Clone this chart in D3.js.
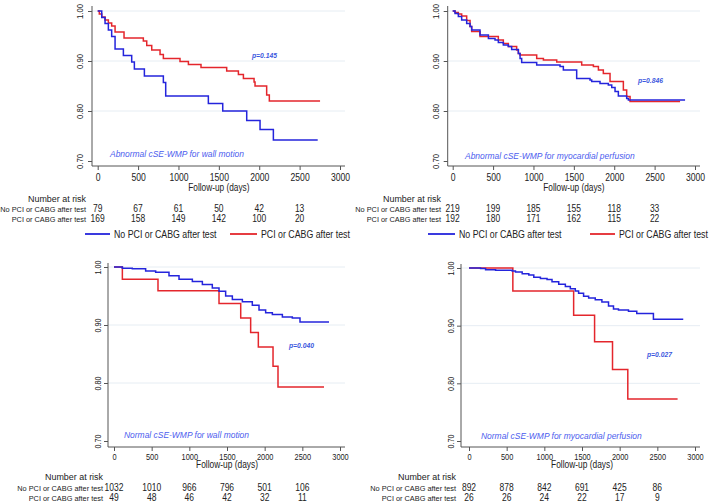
<!DOCTYPE html>
<html><head><meta charset="utf-8">
<script src="https://cdn.jsdelivr.net/npm/d3@7"></script>
<style>
html,body{margin:0;padding:0;background:#fff;}
svg{display:block;font-family:"Liberation Sans",Arial,Helvetica,sans-serif;}
</style>
</head><body>
<svg id="c" width="709" height="503"></svg>
<script>
// ---------- shared labels ----------
const xTicks = [0, 500, 1000, 1500, 2000, 2500, 3000];
const yTicks = [0.70, 0.80, 0.90, 1.00];
const riskTimes = [0, 500, 1000, 1500, 2000, 2500];
const groupNames = ["No PCI or CABG after test", "PCI or CABG after test"];
const xTitle = "Follow-up (days)";
const riskTitle = "Number at risk";

// ---------- Panel A: abnormal cSE-WMP for wall motion ----------
const aTitle = "Abnormal cSE-WMP for wall motion";
const aP = "p=0.145";
const aNoT = [0, 50, 91, 132, 173, 215, 318, 421, 454, 578, 813, 842, 1370, 1548, 1845, 2010, 2175, 2724];
const aNoS = [1, 0.987, 0.975, 0.962, 0.949, 0.924, 0.911, 0.898, 0.884, 0.870, 0.857, 0.830, 0.815, 0.800, 0.781, 0.763, 0.742, 0.742];
const aYesT = [0, 20, 50, 91, 132, 173, 215, 326, 565, 607, 669, 772, 813, 1019, 1123, 1279, 1597, 1742, 1804, 1936, 1948, 2092, 2125, 2753];
const aYesS = [1, 0.994, 0.988, 0.982, 0.976, 0.970, 0.958, 0.946, 0.940, 0.931, 0.922, 0.913, 0.905, 0.899, 0.893, 0.887, 0.880, 0.873, 0.865, 0.858, 0.850, 0.832, 0.820, 0.820];
const aRiskNo = [79, 67, 61, 50, 42, 13];
const aRiskYes = [169, 158, 149, 142, 100, 20];

// ---------- Panel B: abnormal cSE-WMP for myocardial perfusion ----------
const bTitle = "Abnormal cSE-WMP for myocardial perfusion";
const bP = "p=0.846";
const bNoT = [0, 29, 70, 111, 173, 215, 235, 338, 442, 524, 565, 627, 689, 730, 813, 834, 854, 1040, 1329, 1370, 1535, 1700, 1721, 1824, 1927, 1969, 2010, 2051, 2154, 2175, 2877];
const bNoS = [1, 0.995, 0.989, 0.982, 0.975, 0.969, 0.962, 0.952, 0.945, 0.942, 0.937, 0.932, 0.929, 0.923, 0.915, 0.905, 0.897, 0.892, 0.889, 0.882, 0.865, 0.862, 0.859, 0.855, 0.852, 0.847, 0.839, 0.830, 0.825, 0.822, 0.822];
const bYesT = [0, 29, 70, 111, 173, 215, 235, 338, 565, 627, 689, 792, 813, 834, 1040, 1123, 1288, 1597, 1742, 1804, 1865, 1948, 2113, 2154, 2196, 2815];
const bYesS = [1, 0.997, 0.994, 0.990, 0.981, 0.969, 0.959, 0.949, 0.942, 0.935, 0.929, 0.922, 0.915, 0.912, 0.905, 0.902, 0.898, 0.892, 0.889, 0.882, 0.875, 0.859, 0.842, 0.829, 0.819, 0.819];
const bRiskNo = [219, 199, 185, 155, 118, 33];
const bRiskYes = [192, 180, 171, 162, 115, 22];

// ---------- Panel C: normal cSE-WMP for wall motion ----------
const cTitle = "Normal cSE-WMP for wall motion";
const cP = "p=0.040";
const cNoT = [0, 111, 243, 420, 553, 730, 863, 1040, 1173, 1305, 1394, 1482, 1571, 1704, 1836, 1925, 2013, 2102, 2235, 2367, 2469, 2854];
const cNoS = [1, 0.998, 0.997, 0.993, 0.991, 0.985, 0.979, 0.975, 0.970, 0.964, 0.958, 0.950, 0.944, 0.940, 0.934, 0.926, 0.921, 0.918, 0.914, 0.912, 0.905, 0.905];
const cYesT = [0, 111, 584, 1394, 1682, 1814, 1916, 2111, 2177, 2788];
const cYesS = [1, 0.979, 0.959, 0.937, 0.912, 0.887, 0.862, 0.829, 0.793, 0.793];
const cRiskNo = [1032, 1010, 966, 796, 501, 106];
const cRiskYes = [49, 48, 46, 42, 32, 11];

// ---------- Panel D: normal cSE-WMP for myocardial perfusion ----------
const dTitle = "Normal cSE-WMP for myocardial perfusion";
const dP = "p=0.027";
const dNoT = [0, 154, 220, 353, 573, 617, 706, 794, 860, 948, 1036, 1102, 1191, 1279, 1345, 1411, 1455, 1521, 1588, 1676, 1764, 1852, 1918, 1984, 2117, 2227, 2448, 2844];
const dNoS = [1, 0.999, 0.997, 0.996, 0.995, 0.993, 0.990, 0.988, 0.984, 0.982, 0.980, 0.976, 0.972, 0.968, 0.964, 0.960, 0.956, 0.951, 0.948, 0.945, 0.941, 0.934, 0.929, 0.927, 0.925, 0.921, 0.911, 0.911];
const dYesT = [0, 582, 1389, 1667, 1905, 2108, 2769];
const dYesS = [1, 0.960, 0.918, 0.872, 0.824, 0.773, 0.773];
const dRiskNo = [892, 878, 842, 691, 425, 86];
const dRiskYes = [26, 26, 24, 22, 17, 9];

// ---------- styles ----------
const COL_NO = "#2424dc";
const COL_YES = "#e4262c";
const COL_ANNOT = "#4b5cee";
const COL_P = "#3c58de";
const COL_TEXT = "#222";
const COL_AXIS = "#555";
const COL_GRID = "#e6edf3";

// ---------- layouts ----------
const TOP = {tickSize: 10.5, tickSx: 0.82, ytSize: 9.5, ytSx: 0.82, ytOff: -9,
  titleSize: 10.5, titleSx: 0.79};
const BOT = {tickSize: 9.5, tickSx: 0.78, ytSize: 8.5, ytSx: 0.86, ytOff: -7.5,
  titleSize: 10, titleSx: 0.84};

const panels = [
  {title: aTitle, p: aP, noT: aNoT, noS: aNoS, yesT: aYesT, yesS: aYesS, rNo: aRiskNo, rYes: aRiskYes,
   L: Object.assign({axisX: 92, xr: [97.7, 340], yr: [161, 11], top: 6, bottom: 166, right: 345,
     tickY: 180.5, titleY: 191, narY: 201.5, r1: 211.5, r2: 221.5, labelEnd: 86,
     annot: [110, 156.5], pv: [252, 58],
     leg: {y: 234, no: [85, 110], yes: [230, 257]}}, TOP)},
  {title: bTitle, p: bP, noT: bNoT, noS: bNoS, yesT: bYesT, yesS: bYesS, rNo: bRiskNo, rYes: bRiskYes,
   L: Object.assign({axisX: 447.7, xr: [452.7, 695], yr: [161, 11], top: 6, bottom: 166, right: 700,
     tickY: 180.5, titleY: 191, narY: 201.5, r1: 211.5, r2: 221.5, labelEnd: 441,
     annot: [465, 158.5], pv: [638, 83],
     leg: {y: 234, no: [428, 455], yes: [590, 615]}}, TOP)},
  {title: cTitle, p: cP, noT: cNoT, noS: cNoS, yesT: cYesT, yesS: cYesS, rNo: cRiskNo, rYes: cRiskYes,
   L: Object.assign({axisX: 108, xr: [114, 340], yr: [441, 267], top: 263, bottom: 447, right: 345,
     tickY: 460, titleY: 468, narY: 480, r1: 490.5, r2: 500.5, labelEnd: 103,
     annot: [124, 438], pv: [289, 348], leg: null}, BOT)},
  {title: dTitle, p: dP, noT: dNoT, noS: dNoS, yesT: dYesT, yesS: dYesS, rNo: dRiskNo, rYes: dRiskYes,
   L: Object.assign({axisX: 461, xr: [469, 695], yr: [441, 268], top: 264, bottom: 447, right: 700,
     tickY: 460, titleY: 468, narY: 480, r1: 490.5, r2: 500.5, labelEnd: 456,
     annot: [481, 439], pv: [647, 357], leg: null}, BOT)}
];

const svg = d3.select("#c");
svg.append("rect").attr("width", 709).attr("height", 503).attr("fill", "#fff");

function label(g, x, y, s, o) {
  o = o || {};
  return g.append("text")
    .attr("transform", `translate(${x},${y}) rotate(${o.rot || 0}) scale(${o.sx || 1},1)`)
    .attr("text-anchor", o.anchor || "start")
    .style("font-size", (o.size || 10) + "px")
    .style("font-style", o.italic ? "italic" : "normal")
    .style("font-weight", o.bold ? "bold" : "normal")
    .attr("fill", o.fill || COL_TEXT)
    .text(s);
}

panels.forEach(P => {
  const L = P.L;
  const g = svg.append("g");
  const x = d3.scaleLinear().domain([0, 3000]).range(L.xr);
  const y = d3.scaleLinear().domain([0.70, 1.00]).range(L.yr);

  // grid lines
  g.selectAll("line.grid").data(yTicks.filter(v => v > 0.7)).join("line")
    .attr("class", "grid")
    .attr("x1", L.axisX).attr("x2", L.right)
    .attr("y1", d => y(d)).attr("y2", d => y(d))
    .attr("stroke", COL_GRID).attr("stroke-width", 1);

  // axis lines
  g.append("line").attr("x1", L.axisX).attr("x2", L.axisX).attr("y1", L.top).attr("y2", L.bottom)
    .attr("stroke", COL_AXIS).attr("stroke-width", 1);
  g.append("line").attr("x1", L.axisX).attr("x2", L.right).attr("y1", L.bottom).attr("y2", L.bottom)
    .attr("stroke", COL_AXIS).attr("stroke-width", 1);

  // x axis ticks + labels
  const gx = g.append("g").attr("transform", `translate(0,${L.bottom})`)
    .call(d3.axisBottom(x).tickValues(xTicks).tickSize(4).tickFormat(d3.format("d")));
  gx.select(".domain").remove();
  gx.selectAll(".tick line").attr("stroke", COL_AXIS);
  gx.selectAll(".tick text")
    .attr("y", null).attr("dy", null)
    .attr("transform", `translate(0,${L.tickY - L.bottom}) scale(${L.tickSx},1)`)
    .attr("fill", COL_TEXT)
    .style("font-size", L.tickSize + "px")
    .style("font-family", "'Liberation Sans',Arial,sans-serif");

  // y axis ticks + rotated labels
  const gy = g.append("g").attr("transform", `translate(${L.axisX},0)`)
    .call(d3.axisLeft(y).tickValues(yTicks).tickSize(4).tickFormat(d3.format(".2f")));
  gy.select(".domain").remove();
  gy.selectAll(".tick line").attr("stroke", COL_AXIS);
  gy.selectAll(".tick text")
    .attr("x", null).attr("dy", null)
    .attr("text-anchor", "middle")
    .attr("transform", `translate(${L.ytOff},0) rotate(-90) scale(${L.ytSx},1)`)
    .attr("fill", COL_TEXT)
    .style("font-size", L.ytSize + "px")
    .style("font-family", "'Liberation Sans',Arial,sans-serif");

  // axis title
  label(g, x(1500), L.titleY, xTitle, {anchor: "middle", size: L.titleSize, sx: L.titleSx});

  // survival curves
  const line = d3.line().x(d => x(d[0])).y(d => y(d[1])).curve(d3.curveStepAfter);
  g.append("path").datum(d3.zip(P.yesT, P.yesS)).attr("d", line)
    .attr("fill", "none").attr("stroke", COL_YES).attr("stroke-width", 1.5);
  g.append("path").datum(d3.zip(P.noT, P.noS)).attr("d", line)
    .attr("fill", "none").attr("stroke", COL_NO).attr("stroke-width", 1.5);

  // annotations
  label(g, L.annot[0], L.annot[1], P.title, {size: 9.5, sx: 0.89, italic: true, fill: COL_ANNOT});
  label(g, L.pv[0], L.pv[1], P.p, {size: 7.5, sx: 0.9, italic: true, bold: true, fill: COL_P});

  // risk table
  label(g, L.labelEnd, L.narY, riskTitle, {anchor: "end", size: 9.5, sx: 0.94});
  label(g, L.labelEnd, L.r1, groupNames[0], {anchor: "end", size: 8, sx: 0.92});
  label(g, L.labelEnd, L.r2, groupNames[1], {anchor: "end", size: 8, sx: 0.92});
  riskTimes.forEach((t, i) => {
    label(g, x(t), L.r1, String(P.rNo[i]), {anchor: "middle", size: 10, sx: 0.85});
    label(g, x(t), L.r2, String(P.rYes[i]), {anchor: "middle", size: 10, sx: 0.85});
  });

  // legend
  if (L.leg) {
    const lg = L.leg;
    g.append("line").attr("x1", lg.no[0]).attr("x2", lg.no[1]).attr("y1", lg.y).attr("y2", lg.y)
      .attr("stroke", COL_NO).attr("stroke-width", 1.8);
    label(g, lg.no[1] + 4, lg.y + 3.6, groupNames[0], {size: 10, sx: 0.88});
    g.append("line").attr("x1", lg.yes[0]).attr("x2", lg.yes[1]).attr("y1", lg.y).attr("y2", lg.y)
      .attr("stroke", COL_YES).attr("stroke-width", 1.8);
    label(g, lg.yes[1] + 4, lg.y + 3.6, groupNames[1], {size: 10, sx: 0.88});
  }
});
</script>
</body></html>
